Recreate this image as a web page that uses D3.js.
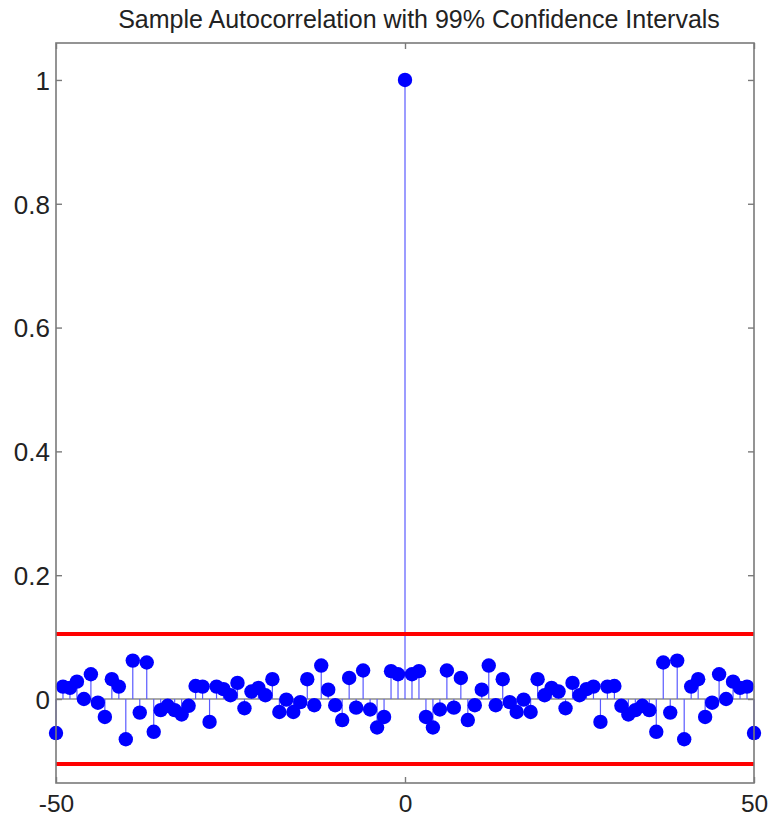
<!DOCTYPE html>
<html><head><meta charset="utf-8">
<script src="https://cdn.jsdelivr.net/npm/d3@7/dist/d3.min.js"></script>
<style>body{margin:0;background:#fff}</style>
</head><body>
<svg id="c" width="773" height="819"></svg>
<script>
const lags = d3.range(-50, 51);
const acf = [
 -0.055, 0.020, 0.018, 0.028, 0.000, 0.040, -0.006, -0.029, 0.032, 0.020,
 -0.065, 0.062, -0.022, 0.059, -0.053, -0.018, -0.011, -0.018, -0.025, -0.011,
 0.021, 0.020, -0.037, 0.020, 0.016, 0.006, 0.026, -0.015, 0.012, 0.018,
 0.006, 0.032, -0.021, -0.001, -0.021, -0.005, 0.032, -0.010, 0.054, 0.015,
 -0.010, -0.034, 0.034, -0.014, 0.046, -0.017, -0.046, -0.029, 0.045, 0.040,
 1.000,
 0.040, 0.045, -0.029, -0.046, -0.017, 0.046, -0.014, 0.034, -0.034, -0.010,
 0.015, 0.054, -0.010, 0.032, -0.005, -0.021, -0.001, -0.021, 0.032, 0.006,
 0.018, 0.012, -0.015, 0.026, 0.006, 0.016, 0.020, -0.037, 0.020, 0.021,
 -0.011, -0.025, -0.018, -0.011, -0.018, -0.053, 0.059, -0.022, 0.062, -0.065,
 0.020, 0.032, -0.029, -0.006, 0.040, 0.000, 0.028, 0.018, 0.020, -0.055
];
const confBounds = [0.105, -0.105];
const xTicks = [-50, 0, 50];
const yTicks = [0, 0.2, 0.4, 0.6, 0.8, 1];
const title = "Sample Autocorrelation with 99% Confidence Intervals";

const L = 56, R = 754, T = 43, B = 783;
const svg = d3.select("#c");
const x = d3.scaleLinear().domain([-50, 50]).range([L, R]);
const y = d3.scaleLinear().domain([-0.1357, 1.0597]).range([B, T]);
const font = "'Liberation Sans', Arial, Helvetica, sans-serif";
const axisCol = "#7a7a7a";

// zero line
svg.append("line").attr("x1", L).attr("x2", R).attr("y1", y(0)).attr("y2", y(0))
  .attr("stroke", "#8c8c8c").attr("stroke-width", 1.6);

// stems
const data = lags.map((l, i) => ({lag: l, v: acf[i]}));
svg.append("g").selectAll("line").data(data).join("line")
  .attr("x1", d => x(d.lag)).attr("x2", d => x(d.lag))
  .attr("y1", y(0)).attr("y2", d => y(d.v))
  .attr("stroke", "#5a5aff").attr("stroke-width", 1.2);

// confidence bounds
svg.append("g").selectAll("line").data(confBounds).join("line")
  .attr("x1", L).attr("x2", R).attr("y1", d => y(d)).attr("y2", d => y(d))
  .attr("stroke", "#ff0000").attr("stroke-width", 4);

// dots
svg.append("g").selectAll("circle").data(data).join("circle")
  .attr("cx", d => x(d.lag)).attr("cy", d => y(d.v)).attr("r", 7.2)
  .attr("fill", "#0000ff");

// frame
svg.append("rect").attr("x", L).attr("y", T).attr("width", R - L).attr("height", B - T)
  .attr("fill", "none").attr("stroke", axisCol).attr("stroke-width", 1.6);

// axes
const ax = svg.append("g").attr("transform", `translate(0,${B})`)
  .call(d3.axisBottom(x).tickValues(xTicks).tickSize(-6).tickFormat(d => String(d)));
const ax2 = svg.append("g").attr("transform", `translate(0,${T})`)
  .call(d3.axisTop(x).tickValues(xTicks).tickSize(-6).tickFormat(""));
const ay = svg.append("g").attr("transform", `translate(${L},0)`)
  .call(d3.axisLeft(y).tickValues(yTicks).tickSize(-6).tickFormat(d => d === 0 ? "0" : d === 1 ? "1" : d3.format(".1f")(d)));
ay.selectAll(".tick text").attr("x", -6).attr("dy", "0.36em");
const ay2 = svg.append("g").attr("transform", `translate(${R},0)`)
  .call(d3.axisRight(y).tickValues(yTicks).tickSize(-6).tickFormat(""));
[ax, ax2, ay, ay2].forEach(g => {
  g.select(".domain").remove();
  g.selectAll(".tick line").attr("stroke", axisCol).attr("stroke-width", 1.4);
  g.selectAll("text").attr("font-family", font).attr("font-size", 26).attr("fill", "#222");
});
ax.selectAll(".tick text").attr("y", 29).attr("dy", 0).attr("font-size", 24.5);

svg.append("text").attr("x", 419).attr("y", 27.5).attr("text-anchor", "middle")
  .attr("font-family", font).attr("font-size", 25).attr("fill", "#222").text(title);
</script>
</body></html>
